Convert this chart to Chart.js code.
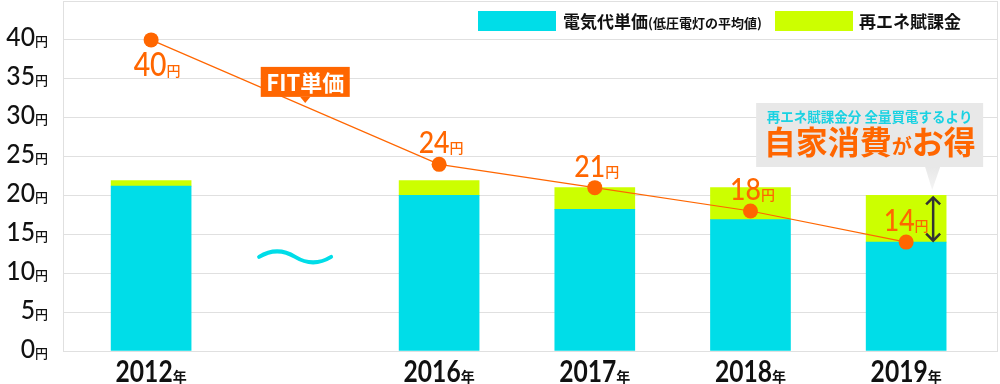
<!DOCTYPE html>
<html>
<head>
<meta charset="utf-8">
<script src="https://cdn.jsdelivr.net/npm/chart.js@4.4.1/dist/chart.umd.min.js"></script>
<style>
html,body{margin:0;padding:0;background:#fff;}
#wrap{width:1000px;height:384px;position:relative;}
</style>
</head>
<body>
<div id="wrap"><canvas id="c" width="1000" height="384"></canvas></div>
<script>
// ---- data ----
const yearLabels = ['2012', '2016', '2017', '2018', '2019'];
const yearUnit = '年';
const categorySlots = [0, 1.85, 2.85, 3.85, 4.85];   // 2012 … (gap) … 2016-2019
const electricityPrice = [21.2, 20.0, 18.2, 16.9, 14.0];   // 電気代単価(低圧電灯の平均値)
const renewableSurcharge = [0.7, 1.9, 2.8, 4.1, 6.0];      // 再エネ賦課金
const fitPrice = [40, 24, 21, 18, 14];                     // FIT単価
const yTickValues = [0, 5, 10, 15, 20, 25, 30, 35, 40];
const yUnit = '円';

const CYAN = '#00dde8', LIME = '#ccff00', ORANGE = '#ff6600', GRID = '#e0e0e0';
const JP = '"Noto Sans CJK JP"';

function pts(vals){ return vals.map((v,i)=>({x:categorySlots[i], y:v})); }

function drawMixed(ctx, num, unit, x, by, numFont, unitFont, color, sx, align){
  ctx.save();
  ctx.font = numFont; const w1 = ctx.measureText(num).width * sx;
  ctx.font = unitFont; const w2 = ctx.measureText(unit).width;
  let left = x;
  if (align === 'center') left = x - (w1 + w2)/2;
  else if (align === 'right') left = x - (w1 + w2);
  ctx.fillStyle = color; ctx.textBaseline = 'alphabetic'; ctx.textAlign = 'left';
  ctx.save(); ctx.translate(left, by); ctx.scale(sx, 1); ctx.font = numFont; ctx.fillText(num, 0, 0); ctx.restore();
  ctx.font = unitFont; ctx.fillText(unit, left + w1, by);
  ctx.restore();
}

const decorPlugin = {
  id: 'decor',
  beforeDatasetsDraw(chart){
    const {ctx, chartArea:a} = chart;
    ctx.save();
    ctx.strokeStyle = GRID; ctx.lineWidth = 1;
    ctx.beginPath(); ctx.moveTo(a.right - 0.5, a.top); ctx.lineTo(a.right - 0.5, a.bottom); ctx.stroke();
    ctx.restore();
  },
  afterDatasetsDraw(chart){
    const {ctx, scales:{x, y}} = chart;
    ctx.save();
    // y tick labels
    yTickValues.forEach(v=>{
      const gy = y.getPixelForValue(v);
      drawMixed(ctx, String(v), yUnit, 48, gy + 6.5, '500 26px Lato', '500 13px ' + JP, '#111', 0.95, 'right');
    });
    // year labels
    yearLabels.forEach((lab,i)=>{
      const cx = x.getPixelForValue(categorySlots[i]);
      drawMixed(ctx, lab, yearUnit, cx, 382, 'bold 30px Lato', 'bold 14px ' + JP, '#111', 0.82, 'center');
    });
    // FIT value labels
    fitPrice.forEach((v,i)=>{
      const px = x.getPixelForValue(categorySlots[i]);
      const py = y.getPixelForValue(v);
      if (i === 0) drawMixed(ctx, String(v), yUnit, px + 6, py + 36, '500 33px Lato', '500 14px ' + JP, ORANGE, 0.86, 'center');
      else drawMixed(ctx, String(v), yUnit, px + (i === fitPrice.length-1 ? 0 : 2), py - 11, '500 31px Lato', '500 14px ' + JP, ORANGE, 0.86, 'center');
    });
    // wave between 2012 and 2016
    const wx = (x.getPixelForValue(categorySlots[0]) + x.getPixelForValue(categorySlots[1]))/2;
    const wy = y.getPixelForValue(12.1);
    ctx.strokeStyle = CYAN; ctx.lineWidth = 4; ctx.lineCap = 'round';
    ctx.beginPath();
    ctx.moveTo(wx - 36, wy);
    ctx.quadraticCurveTo(wx - 18, wy - 11, wx, wy);
    ctx.quadraticCurveTo(wx + 18, wy + 11, wx + 36, wy);
    ctx.stroke();

    // FIT単価 tag
    const fx = x.getPixelForValue(0.99), fy = y.getPixelForValue(34.6);
    ctx.fillStyle = ORANGE;
    ctx.fillRect(fx - 44.5, fy - 15, 89, 30);
    ctx.beginPath(); ctx.moveTo(fx - 5, fy + 15); ctx.lineTo(fx + 5, fy + 15); ctx.lineTo(fx, fy + 21); ctx.closePath(); ctx.fill();
    ctx.fillStyle = '#fff'; ctx.textAlign = 'center'; ctx.textBaseline = 'middle';
    ctx.font = 'bold 22px ' + JP;
    ctx.fillText('FIT単価', fx, fy + 1);

    // callout near 2019
    const bx = x.getPixelForValue(categorySlots[4]);
    const boxL = bx - 150, boxR = bx + 77, boxT = 103, boxB = 167;
    ctx.fillStyle = '#e8e8e8';
    ctx.fillRect(boxL, boxT, boxR - boxL, boxB - boxT);
    const g = ctx.createLinearGradient(0, boxB, 0, boxB + 23);
    g.addColorStop(0, '#e8e8e8'); g.addColorStop(1, '#f4f4f4');
    ctx.fillStyle = g;
    ctx.beginPath(); ctx.moveTo(bx + 19, boxB); ctx.lineTo(bx + 34, boxB); ctx.lineTo(bx + 26, boxB + 23); ctx.closePath(); ctx.fill();
    const ccx = (boxL + boxR)/2;
    ctx.fillStyle = '#1ad2e2'; ctx.textAlign = 'center'; ctx.textBaseline = 'middle';
    ctx.font = 'bold 13.5px ' + JP;
    ctx.fillText('再エネ賦課金分 全量買電するより', ccx, 117);
    // second line mixed sizes
    const parts = [['自家消費', 'bold 32px ' + JP], ['が', 'bold 20px ' + JP], ['お得', 'bold 32px ' + JP]];
    let tw = 0; parts.forEach(p=>{ ctx.font = p[1]; p.push(ctx.measureText(p[0]).width); tw += p[2]; });
    let lx = ccx - tw/2;
    ctx.fillStyle = ORANGE; ctx.textAlign = 'left'; ctx.textBaseline = 'alphabetic';
    parts.forEach(p=>{ ctx.font = p[1]; ctx.fillText(p[0], lx, 154); lx += p[2]; });

    // double arrow over surcharge of 2019
    const ax = bx + 27;
    const aTop = y.getPixelForValue(electricityPrice[4] + renewableSurcharge[4]) + 1;
    const aBot = y.getPixelForValue(electricityPrice[4]) - 0.5;
    ctx.strokeStyle = '#333'; ctx.lineWidth = 2.5; ctx.lineCap = 'butt'; ctx.lineJoin = 'miter';
    ctx.beginPath(); ctx.moveTo(ax, aTop + 1); ctx.lineTo(ax, aBot - 1); ctx.stroke();
    ctx.beginPath(); ctx.moveTo(ax - 7, aTop + 8); ctx.lineTo(ax, aTop + 1); ctx.lineTo(ax + 7, aTop + 8); ctx.stroke();
    ctx.beginPath(); ctx.moveTo(ax - 7, aBot - 8); ctx.lineTo(ax, aBot - 1); ctx.lineTo(ax + 7, aBot - 8); ctx.stroke();

    // legend
    ctx.fillStyle = CYAN; ctx.fillRect(478, 11, 78, 20);
    ctx.fillStyle = LIME; ctx.fillRect(775, 11, 78, 20);
    ctx.fillStyle = '#111'; ctx.textAlign = 'left'; ctx.textBaseline = 'alphabetic';
    ctx.font = 'bold 17px ' + JP; ctx.fillText('電気代単価', 563, 28);
    const w = ctx.measureText('電気代単価').width;
    ctx.font = 'bold 13px ' + JP; ctx.fillText('(低圧電灯の平均値)', 563 + w, 28);
    ctx.font = 'bold 17px ' + JP; ctx.fillText('再エネ賦課金', 859, 28);
    ctx.restore();
  }
};

new Chart(document.getElementById('c'), {
  type: 'bar',
  data: {
    datasets: [
      { type:'line', label:'FIT単価', data: pts(fitPrice), borderColor: ORANGE, borderWidth: 1.2,
        pointRadius: 7.5, pointBackgroundColor: ORANGE, pointBorderWidth: 0, pointHoverRadius: 7.5,
        tension: 0, order: 0, stack: 'fit', clip: false },
      { label:'電気代単価(低圧電灯の平均値)', data: pts(electricityPrice), backgroundColor: CYAN,
        barThickness: 80, stack: 's', order: 1 },
      { label:'再エネ賦課金', data: pts(renewableSurcharge), backgroundColor: LIME,
        barThickness: 80, stack: 's', order: 1 }
    ]
  },
  options: {
    responsive: false, animation: false, devicePixelRatio: 1,
    layout: { autoPadding: false, padding: { left: 0, right: 2, top: 1, bottom: 0 } },
    plugins: { legend: { display: false }, tooltip: { enabled: false } },
    scales: {
      x: { type: 'linear', min: -0.566, max: 5.44, offset: false, stacked: true,
           ticks: { display: false }, grid: { display: false, drawTicks: false },
           border: { display: false },
           afterFit(s){ s.height = 33; } },
      y: { type: 'linear', min: 0, max: 45, stacked: true,
           ticks: { display: false, stepSize: 5 },
           grid: { color: GRID, lineWidth: 1, drawTicks: false },
           border: { display: true, color: GRID },
           afterFit(s){ s.width = 63; } }
    }
  },
  plugins: [decorPlugin]
});
</script>
</body>
</html>
